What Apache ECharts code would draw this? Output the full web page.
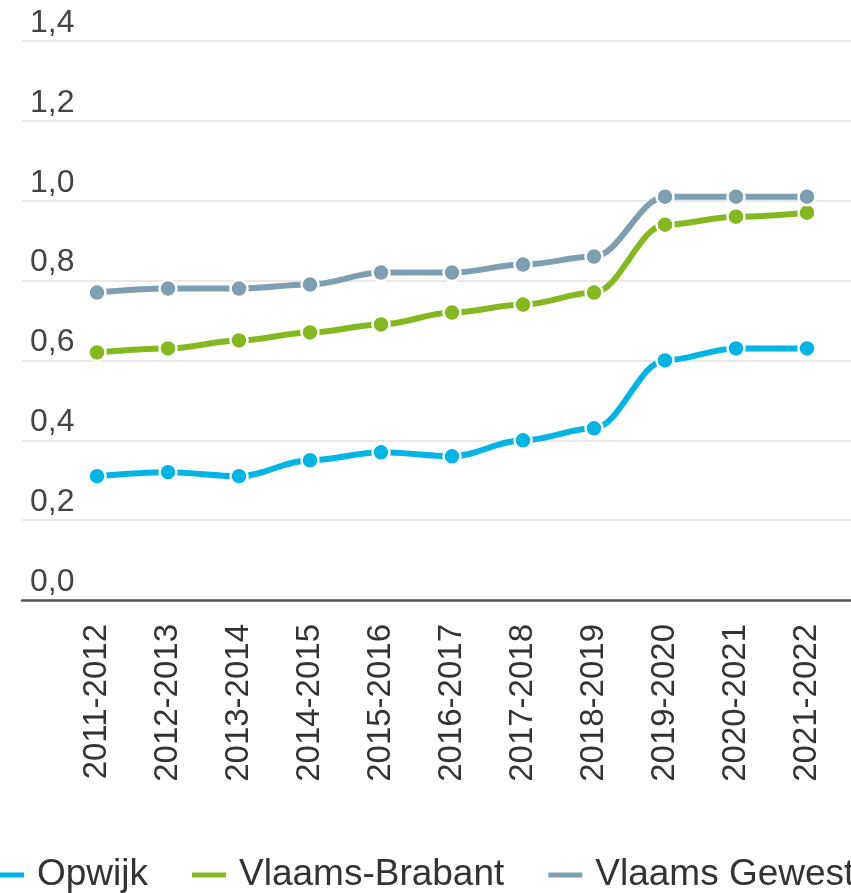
<!DOCTYPE html>
<html>
<head>
<meta charset="utf-8">
<script src="https://cdn.jsdelivr.net/npm/echarts@6/dist/echarts.min.js"></script>
<style>
  html, body { margin: 0; padding: 0; background: #fff; }
  #chart { width: 851px; height: 893px; }
</style>
</head>
<body>
<div id="chart"></div>
<script>
// School years shown on the category axis
const schoolYears = ['2011-2012', '2012-2013', '2013-2014', '2014-2015', '2015-2016',
  '2016-2017', '2017-2018', '2018-2019', '2019-2020', '2020-2021', '2021-2022'];

// Values per region
const opwijk = [0.31, 0.32, 0.31, 0.35, 0.37, 0.36, 0.40, 0.43, 0.60, 0.63, 0.63];
const vlaamsBrabant = [0.62, 0.63, 0.65, 0.67, 0.69, 0.72, 0.74, 0.77, 0.94, 0.96, 0.97];
const vlaamsGewest = [0.77, 0.78, 0.78, 0.79, 0.82, 0.82, 0.84, 0.86, 1.01, 1.01, 1.01];

// Value axis range
const yMin = 0, yMax = 1.4, yStep = 0.2;

const seriesDefs = [
  { name: 'Opwijk', data: opwijk, color: '#00b5e4' },
  { name: 'Vlaams-Brabant', data: vlaamsBrabant, color: '#84b81f' },
  { name: 'Vlaams Gewest', data: vlaamsGewest, color: '#7e9fb1' }
];

const FONT = '"Liberation Sans", Arial, sans-serif';
const chart = echarts.init(document.getElementById('chart'), null, { renderer: 'canvas' });

chart.setOption({
  animation: false,
  backgroundColor: '#ffffff',
  textStyle: { fontFamily: FONT },
  grid: [
    // wide grid: gridlines, value labels and baseline
    { left: 22, right: 0, top: 41, bottom: 293 },
    // plotting grid for the categories
    { left: 61.5, right: 8.5, top: 41, bottom: 293 }
  ],
  xAxis: [
    {
      gridIndex: 0, type: 'value', min: 0, max: 1,
      axisLine: { show: true, lineStyle: { color: '#555555', width: 2.5 } },
      axisTick: { show: false }, axisLabel: { show: false }, splitLine: { show: false }
    },
    {
      gridIndex: 1, type: 'category', data: schoolYears, boundaryGap: true,
      axisLine: { show: false }, axisTick: { show: false },
      axisLabel: {
        rotate: 90, interval: 0, margin: 24,
        fontSize: 33, color: '#333333', fontFamily: FONT
      }
    }
  ],
  yAxis: [
    {
      gridIndex: 0, type: 'value', min: yMin, max: yMax, interval: yStep,
      axisLine: { show: false }, axisTick: { show: false },
      splitLine: { show: true, lineStyle: { color: '#e8e8e8', width: 2 } },
      axisLabel: {
        inside: true, margin: 8, fontSize: 32, color: '#444444', fontFamily: FONT,
        verticalAlign: 'bottom', padding: [0, 0, 2, 0],
        formatter: v => v.toFixed(1).replace('.', ',')
      }
    },
    {
      gridIndex: 1, type: 'value', min: yMin, max: yMax, interval: yStep, show: false,
      splitLine: { show: false }
    }
  ],
  legend: {
    left: -17, top: 850, width: 1200, orient: 'horizontal',
    icon: 'rect', itemWidth: 36, itemHeight: 7, itemGap: 42,
    textStyle: {
      fontSize: 37, lineHeight: 40, color: '#333333', fontFamily: FONT,
      padding: [0, 0, 0, 7]
    },
    data: seriesDefs.map(s => s.name)
  },
  series: seriesDefs.map(s => ({
    name: s.name, type: 'line', xAxisIndex: 1, yAxisIndex: 1,
    data: s.data, smooth: 0.35, smoothMonotone: 'x',
    color: s.color,
    lineStyle: { width: 6, color: s.color },
    symbol: 'circle', symbolSize: 17,
    itemStyle: { color: s.color, borderColor: '#ffffff', borderWidth: 2.5 }
  }))
});
</script>
</body>
</html>
